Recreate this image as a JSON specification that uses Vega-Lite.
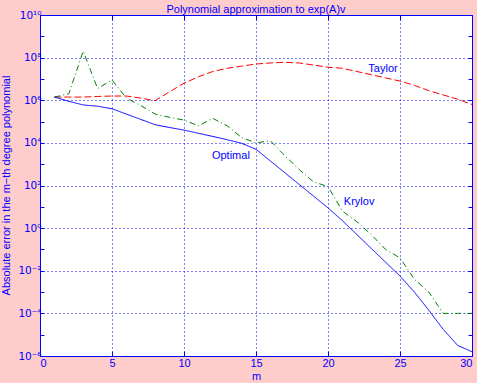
{
 "$schema": "https://vega.github.io/schema/vega-lite/v6.json",
 "width": 432, "height": 341,
 "autosize": "none",
 "padding": {"left": 40, "top": 15, "right": 5, "bottom": 27},
 "background": "#ffcccc",
 "title": {"text": "Polynomial approximation to exp(A)v", "fontSize": 11, "fontWeight": "normal", "color": "#0000ff", "offset": -5, "font": "Liberation Sans"},
 "config": {
  "view": {"fill": "white", "stroke": "#0000ff", "strokeWidth": 1},
  "font": "Liberation Sans",
  "axis": {"domainColor": "#0000ff", "tickColor": "#0000ff", "labelColor": "#0000ff", "labelFontSize": 11, "titleColor": "#0000ff", "titleFontSize": 11, "titleFontWeight": "normal", "gridColor": "#0000ff", "gridDash": [1, 3], "gridWidth": 1, "labelFont": "Liberation Sans", "titleFont": "Liberation Sans"}
 },
 "datasets": {
  "curves": [
   {"m": 1, "method": "Taylor", "error": 1.41e6}, {"m": 2, "method": "Taylor", "error": 1.41e6}, {"m": 3, "method": "Taylor", "error": 1.41e6}, {"m": 4, "method": "Taylor", "error": 1.51e6}, {"m": 5, "method": "Taylor", "error": 1.58e6}, {"m": 6, "method": "Taylor", "error": 1.58e6}, {"m": 7, "method": "Taylor", "error": 1.26e6}, {"m": 8, "method": "Taylor", "error": 9.55e5}, {"m": 9, "method": "Taylor", "error": 2.51e6}, {"m": 10, "method": "Taylor", "error": 6.31e6},
   {"m": 11, "method": "Taylor", "error": 1.26e7}, {"m": 12, "method": "Taylor", "error": 2.24e7}, {"m": 13, "method": "Taylor", "error": 3.16e7}, {"m": 14, "method": "Taylor", "error": 3.98e7}, {"m": 15, "method": "Taylor", "error": 5.01e7}, {"m": 16, "method": "Taylor", "error": 5.62e7}, {"m": 17, "method": "Taylor", "error": 6.03e7}, {"m": 18, "method": "Taylor", "error": 5.62e7}, {"m": 19, "method": "Taylor", "error": 4.47e7}, {"m": 20, "method": "Taylor", "error": 3.55e7},
   {"m": 21, "method": "Taylor", "error": 3.16e7}, {"m": 22, "method": "Taylor", "error": 2.24e7}, {"m": 23, "method": "Taylor", "error": 1.58e7}, {"m": 24, "method": "Taylor", "error": 1.12e7}, {"m": 25, "method": "Taylor", "error": 7.94e6}, {"m": 26, "method": "Taylor", "error": 5.01e6}, {"m": 27, "method": "Taylor", "error": 2.82e6}, {"m": 28, "method": "Taylor", "error": 1.78e6}, {"m": 29, "method": "Taylor", "error": 1.12e6}, {"m": 30, "method": "Taylor", "error": 6.31e5},
   {"m": 1, "method": "Krylov", "error": 1.41e6}, {"m": 2, "method": "Krylov", "error": 2.0e6}, {"m": 3, "method": "Krylov", "error": 2.0e8}, {"m": 4, "method": "Krylov", "error": 3.55e6}, {"m": 5, "method": "Krylov", "error": 8.91e6}, {"m": 6, "method": "Krylov", "error": 1.26e6}, {"m": 7, "method": "Krylov", "error": 5.62e5}, {"m": 8, "method": "Krylov", "error": 2.24e5}, {"m": 9, "method": "Krylov", "error": 1.58e5}, {"m": 10, "method": "Krylov", "error": 1.17e5},
   {"m": 11, "method": "Krylov", "error": 6.31e4}, {"m": 12, "method": "Krylov", "error": 1.41e5}, {"m": 13, "method": "Krylov", "error": 6.31e4}, {"m": 14, "method": "Krylov", "error": 1.78e4}, {"m": 15, "method": "Krylov", "error": 1.0e4}, {"m": 16, "method": "Krylov", "error": 1.26e4}, {"m": 17, "method": "Krylov", "error": 2.51e3}, {"m": 18, "method": "Krylov", "error": 562}, {"m": 19, "method": "Krylov", "error": 148}, {"m": 20, "method": "Krylov", "error": 89.1},
   {"m": 21, "method": "Krylov", "error": 6.31}, {"m": 22, "method": "Krylov", "error": 2.0}, {"m": 23, "method": "Krylov", "error": 0.501}, {"m": 24, "method": "Krylov", "error": 0.1}, {"m": 25, "method": "Krylov", "error": 0.0398}, {"m": 26, "method": "Krylov", "error": 0.00398}, {"m": 27, "method": "Krylov", "error": 0.001}, {"m": 28, "method": "Krylov", "error": 1e-4}, {"m": 29, "method": "Krylov", "error": 1e-4}, {"m": 30, "method": "Krylov", "error": 1e-4},
   {"m": 1, "method": "Optimal", "error": 1.41e6}, {"m": 2, "method": "Optimal", "error": 8.91e5}, {"m": 3, "method": "Optimal", "error": 6.03e5}, {"m": 4, "method": "Optimal", "error": 5.25e5}, {"m": 5, "method": "Optimal", "error": 3.98e5}, {"m": 6, "method": "Optimal", "error": 2.24e5}, {"m": 7, "method": "Optimal", "error": 1.26e5}, {"m": 8, "method": "Optimal", "error": 7.08e4}, {"m": 9, "method": "Optimal", "error": 5.25e4}, {"m": 10, "method": "Optimal", "error": 3.98e4},
   {"m": 11, "method": "Optimal", "error": 2.82e4}, {"m": 12, "method": "Optimal", "error": 2.0e4}, {"m": 13, "method": "Optimal", "error": 1.41e4}, {"m": 14, "method": "Optimal", "error": 9.55e3}, {"m": 15, "method": "Optimal", "error": 5.01e3}, {"m": 16, "method": "Optimal", "error": 1.41e3}, {"m": 17, "method": "Optimal", "error": 398}, {"m": 18, "method": "Optimal", "error": 112}, {"m": 19, "method": "Optimal", "error": 31.6}, {"m": 20, "method": "Optimal", "error": 8.91},
   {"m": 21, "method": "Optimal", "error": 2.24}, {"m": 22, "method": "Optimal", "error": 0.501}, {"m": 23, "method": "Optimal", "error": 0.112}, {"m": 24, "method": "Optimal", "error": 0.0251}, {"m": 25, "method": "Optimal", "error": 0.00562}, {"m": 26, "method": "Optimal", "error": 0.001}, {"m": 27, "method": "Optimal", "error": 1.41e-4}, {"m": 28, "method": "Optimal", "error": 1.78e-5}, {"m": 29, "method": "Optimal", "error": 3.16e-6}, {"m": 30, "method": "Optimal", "error": 1.58e-6}
  ],
  "labels": [
   {"m": 22.8, "error": 2.88e7, "label": "Taylor"},
   {"m": 11.94, "error": 2.5e3, "label": "Optimal"},
   {"m": 21.1, "error": 17.4, "label": "Krylov"}
  ]
 },
 "layer": [
  {
   "data": {"name": "curves"},
   "mark": {"type": "line", "strokeWidth": 1, "clip": true},
   "encoding": {
    "x": {"field": "m", "type": "quantitative", "scale": {"domain": [0, 30], "nice": false, "zero": false},
     "axis": {"values": [0, 5, 10, 15, 20, 25, 30], "grid": true, "tickSize": -5, "labelPadding": 6, "title": "m", "titlePadding": 2, "format": "d"}},
    "y": {"field": "error", "type": "quantitative", "scale": {"type": "log", "domain": [1e-6, 1e10], "nice": false},
     "axis": {"values": [1e-6, 1e-5, 1e-4, 1e-3, 1e-2, 1e-1, 1, 10, 100, 1e3, 1e4, 1e5, 1e6, 1e7, 1e8, 1e9, 1e10], "tickSize": -4, "labelPadding": 3, "grid": false, "labelFont": "DejaVu Sans", "labelFontSize": 10.5,
      "labelExpr": "['10⁻⁶','','10⁻⁴','','10⁻²','','10⁰','','10²','','10⁴','','10⁶','','10⁸','','10¹⁰'][round(log(datum.value)/LN10)+6]",
      "title": "Absolute error in the m−th degree polynomial", "titleAngle": 270, "titleX": -34, "titleY": 170, "titleAlign": "center", "titleBaseline": "middle"}},
    "color": {"field": "method", "type": "nominal", "scale": {"domain": ["Taylor", "Krylov", "Optimal"], "range": ["#ff0000", "#008000", "#0000ff"]}, "legend": null},
    "strokeDash": {"field": "method", "type": "nominal", "scale": {"domain": ["Taylor", "Krylov", "Optimal"], "range": [[7, 3], [6, 3, 1, 3], [1, 0]]}, "legend": null}
   }
  },
  {
   "data": {"name": "labels"},
   "mark": {"type": "text", "align": "left", "baseline": "middle", "fontSize": 11, "color": "#0000ff", "font": "Liberation Sans"},
   "encoding": {
    "x": {"field": "m", "type": "quantitative", "scale": {"domain": [0, 30], "nice": false, "zero": false},
     "axis": {"orient": "top", "values": [5, 10, 15, 20, 25], "labels": false, "title": null, "grid": false, "tickSize": -5}},
    "y": {"field": "error", "type": "quantitative", "scale": {"type": "log", "domain": [1e-6, 1e10], "nice": false},
     "axis": {"orient": "right", "values": [1e-6, 1e-4, 1e-2, 1, 100, 1e4, 1e6, 1e8, 1e10], "labels": false, "title": null, "grid": true, "tickSize": -4}},
    "text": {"field": "label"}
   }
  },
  {
   "data": {"name": "labels"},
   "mark": {"type": "point", "opacity": 0},
   "encoding": {
    "x": {"field": "m", "type": "quantitative", "scale": {"domain": [0, 30], "nice": false, "zero": false}, "axis": null},
    "y": {"field": "error", "type": "quantitative", "scale": {"type": "log", "domain": [1e-6, 1e10], "nice": false},
     "axis": {"orient": "right", "values": [1e-5, 1e-3, 1e-1, 10, 1e3, 1e5, 1e7, 1e9], "labels": false, "title": null, "grid": false, "domain": false, "tickSize": -4}}
   }
  }
 ],
 "resolve": {"axis": {"x": "independent", "y": "independent"}}
}
